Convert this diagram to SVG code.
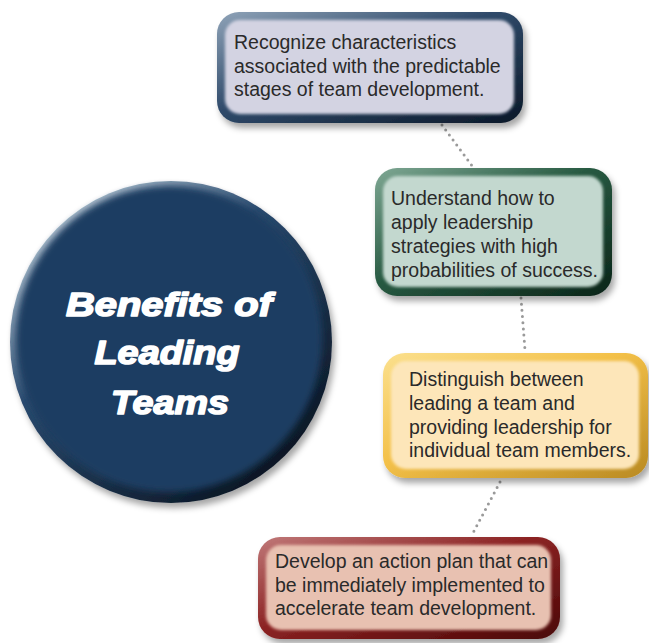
<svg xmlns="http://www.w3.org/2000/svg" width="649" height="643" viewBox="0 0 649 643">
<defs>
<style>
.t{font-family:"Liberation Sans",Arial,sans-serif;font-size:19.5px;fill:#2a2a2a}
.h{font-family:"Liberation Sans",Arial,sans-serif;font-size:33px;font-weight:bold;font-style:italic;fill:#ffffff;stroke:#ffffff;stroke-width:1.6;stroke-linejoin:round;text-anchor:middle}
.dot{fill:none;stroke:#9a9a9a;stroke-width:3;stroke-linecap:round;stroke-dasharray:0 6.2}
</style>
<filter id="sh" x="-10%" y="-10%" width="125%" height="130%">
<feDropShadow dx="3" dy="5" stdDeviation="3" flood-color="#000" flood-opacity="0.35"/>
</filter>
<filter id="soft" x="-5%" y="-5%" width="110%" height="110%">
<feGaussianBlur stdDeviation="1.6"/>
</filter>
<filter id="softc" x="-5%" y="-5%" width="110%" height="110%">
<feGaussianBlur stdDeviation="3"/>
</filter>
<linearGradient id="gNavy" x1="0" y1="0" x2="1" y2="1">
<stop offset="0" stop-color="#8fa3b8"/><stop offset="0.45" stop-color="#2f4a6a"/><stop offset="1" stop-color="#0b1828"/>
</linearGradient>
<linearGradient id="gGreen" x1="0" y1="0" x2="1" y2="1">
<stop offset="0" stop-color="#7fa894"/><stop offset="0.45" stop-color="#285a42"/><stop offset="1" stop-color="#0a2418"/>
</linearGradient>
<linearGradient id="gGold" x1="0" y1="0" x2="1" y2="1">
<stop offset="0" stop-color="#fbe08e"/><stop offset="0.45" stop-color="#f3c048"/><stop offset="1" stop-color="#b98a22"/>
</linearGradient>
<linearGradient id="gRed" x1="0" y1="0" x2="1" y2="1">
<stop offset="0" stop-color="#c07878"/><stop offset="0.45" stop-color="#8c2424"/><stop offset="1" stop-color="#4a0606"/>
</linearGradient>
<linearGradient id="gCirc" x1="0.15" y1="0.1" x2="0.85" y2="0.95">
<stop offset="0" stop-color="#b9c8d6"/><stop offset="0.35" stop-color="#2a4a6e"/><stop offset="1" stop-color="#08121e"/>
</linearGradient>
</defs>
<rect width="649" height="643" fill="#ffffff"/>

<g id="connectors">
<path class="dot" d="M442,125 L473,167"/>
<path class="dot" d="M521,298 L525,350"/>
<path class="dot" d="M500,482 L473,533"/>
</g>

<g id="hub">
<circle cx="171" cy="342" r="161" fill="url(#gCirc)" filter="url(#sh)"/>
<circle cx="169" cy="339" r="153" fill="#1f3e62" filter="url(#softc)"/>
<text class="h" x="169" y="316" textLength="206" lengthAdjust="spacingAndGlyphs">Benefits of</text>
<text class="h" x="167" y="364" textLength="145" lengthAdjust="spacingAndGlyphs">Leading</text>
<text class="h" x="170" y="414" textLength="118" lengthAdjust="spacingAndGlyphs">Teams</text>
</g>

<g id="box1">
<rect x="217" y="12" width="306" height="111" rx="22" fill="url(#gNavy)" filter="url(#sh)"/>
<rect x="225" y="20" width="289" height="94" rx="15" fill="#d3d3e2" filter="url(#soft)"/>
<text class="t" x="234" y="49">Recognize characteristics</text>
<text class="t" x="234" y="73">associated with the predictable</text>
<text class="t" x="234" y="96">stages of team development.</text>
</g>

<g id="box2">
<rect x="375" y="168" width="237" height="128" rx="22" fill="url(#gGreen)" filter="url(#sh)"/>
<rect x="383" y="176" width="220" height="111" rx="15" fill="#c3d8cf" filter="url(#soft)"/>
<text class="t" x="391" y="205">Understand how to</text>
<text class="t" x="391" y="229">apply leadership</text>
<text class="t" x="391" y="253">strategies with high</text>
<text class="t" x="391" y="277">probabilities of success.</text>
</g>

<g id="box3">
<rect x="383" y="353" width="265" height="125" rx="22" fill="url(#gGold)" filter="url(#sh)"/>
<rect x="391" y="361" width="248" height="108" rx="15" fill="#fde6b9" filter="url(#soft)"/>
<text class="t" x="409" y="386">Distinguish between</text>
<text class="t" x="409" y="410">leading a team and</text>
<text class="t" x="409" y="434">providing leadership for</text>
<text class="t" x="409" y="457">individual team members.</text>
</g>

<g id="box4">
<rect x="258" y="537" width="302" height="102" rx="22" fill="url(#gRed)" filter="url(#sh)"/>
<rect x="266" y="545" width="285" height="85" rx="15" fill="#e8c1b1" filter="url(#soft)"/>
<text class="t" x="275" y="568">Develop an action plan that can</text>
<text class="t" x="275" y="592">be immediately implemented to</text>
<text class="t" x="275" y="615">accelerate team development.</text>
</g>
</svg>
